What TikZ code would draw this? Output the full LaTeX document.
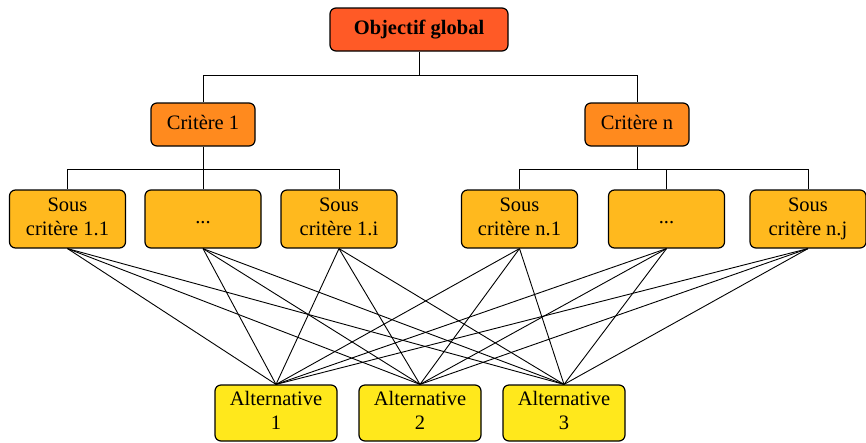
\documentclass[tikz,border=0pt]{standalone}
\usepackage{fontspec}
\setmainfont{Liberation Serif}
\newcommand{\ls}{\strut}
\begin{document}
\begin{tikzpicture}[x=1pt,y=-1pt,
  box/.style={draw=black,line width=1.2pt,rounded corners=6pt,align=center,inner sep=0pt,font=\fontsize{20.5}{24}\selectfont},
  topbox/.style={box,fill=topc,minimum width=178pt,minimum height=43pt,font=\fontsize{20.5}{24}\selectfont\bfseries},
  critbox/.style={box,fill=critc,minimum width=104pt,minimum height=43pt},
  subbox/.style={box,fill=subc,minimum width=116pt,minimum height=58pt},
  altbox/.style={box,fill=altc,minimum width=122pt,minimum height=56pt},
  link/.style={draw=black,line width=0.9pt}
]
\definecolor{topc}{RGB}{255,90,38}
\definecolor{critc}{RGB}{255,138,30}
\definecolor{subc}{RGB}{255,185,30}
\definecolor{altc}{RGB}{255,232,28}
\useasboundingbox (0,0) rectangle (866,442);
\node[topbox] (obj) at (419,29.5) {\ls Objectif global};
\node[critbox] (c1) at (203,124.5) {\ls Critère 1};
\node[critbox] (cn) at (637,124.5) {\ls Critère n};
\node[subbox] (s1) at (67.5,219) {\ls Sous\\\ls critère 1.1};
\node[subbox] (s2) at (203,219) {\ls ...};
\node[subbox] (s3) at (339,219) {\ls Sous\\\ls critère 1.i};
\node[subbox] (s4) at (519.5,219) {\ls Sous\\\ls critère n.1};
\node[subbox] (s5) at (666.5,219) {\ls ...};
\node[subbox] (s6) at (808,219) {\ls Sous\\\ls critère n.j};
\node[altbox] (a1) at (276,413) {\ls Alternative\\\ls 1};
\node[altbox] (a2) at (420,413) {\ls Alternative\\\ls 2};
\node[altbox] (a3) at (564,413) {\ls Alternative\\\ls 3};
\coordinate (hTopM) at (419,75);
\coordinate (hTopL) at (c1.north |- hTopM);
\coordinate (hTopR) at (cn.north |- hTopM);
\coordinate (h1L) at (67.5,169);
\coordinate (h1C) at (c1.south |- h1L);
\coordinate (h1M) at (s2.north |- h1L);
\coordinate (h1R) at (s3.north |- h1L);
\coordinate (h2L) at (s4.north |- h1L);
\coordinate (h2C) at (cn.south |- h1L);
\coordinate (h2M) at (s5.north |- h1L);
\coordinate (h2R) at (s6.north |- h1L);
\draw[link] (obj.south) -- (hTopM);
\draw[link] (hTopL) -- (hTopR);
\draw[link] (hTopL) -- (c1.north);
\draw[link] (hTopR) -- (cn.north);
\draw[link] (c1.south) -- (h1C);
\draw[link] (h1L) -- (h1R);
\draw[link] (h1L) -- (s1.north);
\draw[link] (h1M) -- (s2.north);
\draw[link] (h1R) -- (s3.north);
\draw[link] (cn.south) -- (h2C);
\draw[link] (h2L) -- (h2R);
\draw[link] (h2L) -- (s4.north);
\draw[link] (h2M) -- (s5.north);
\draw[link] (h2R) -- (s6.north);
\foreach \s in {s1,s2,s3,s4,s5,s6}{
  \foreach \a in {a1,a2,a3}{
    \draw[link] (\s.south) -- (\a.north);
  }
}
\end{tikzpicture}
\end{document}
